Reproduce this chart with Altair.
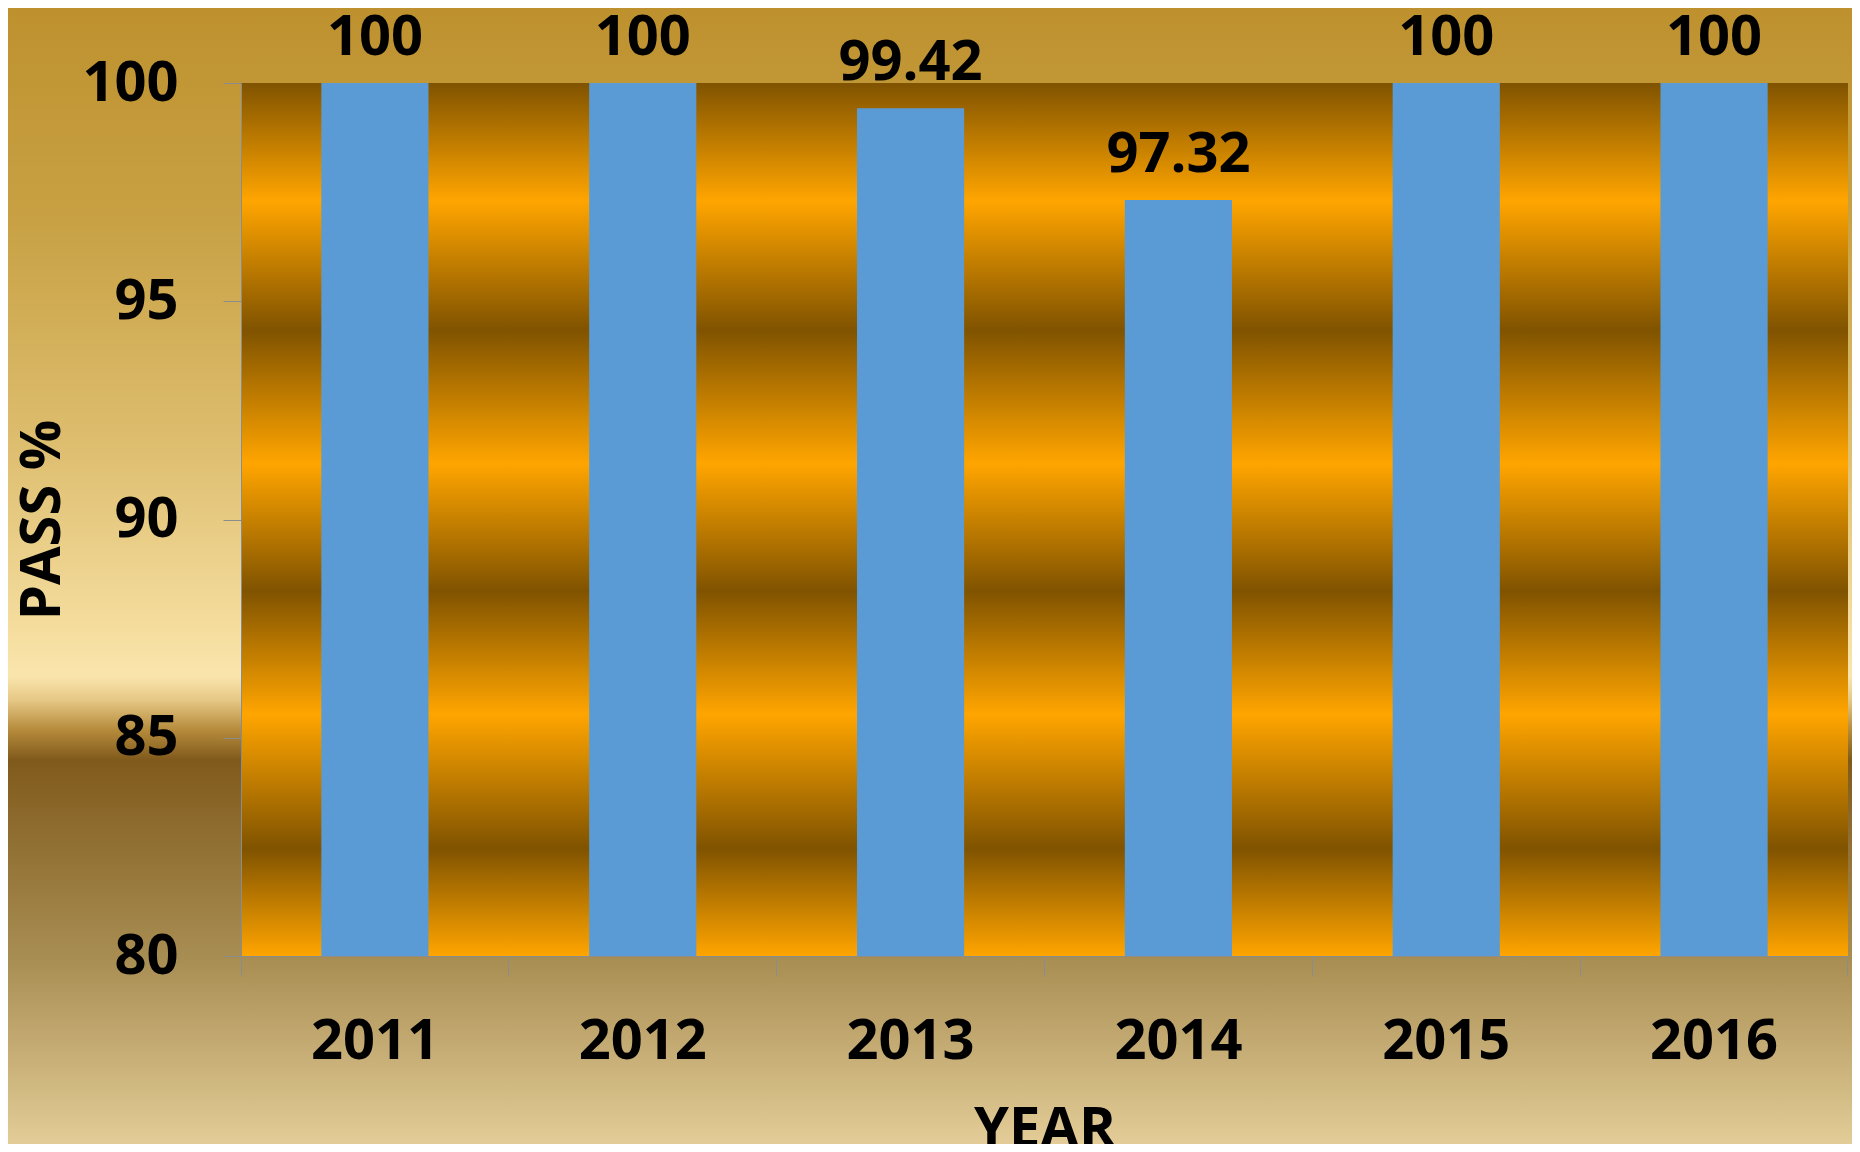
import altair as alt
import pandas as pd

# ---- data ----
years = ["2011", "2012", "2013", "2014", "2015", "2016"]
pass_pct = [100, 100, 99.42, 97.32, 100, 100]
bar_labels = ["100", "100", "99.42", "97.32", "100", "100"]
y_ticks = [80, 85, 90, 95, 100]

# ---- layout / style ----
W, H = 1607, 873
PAD = {"left": 233, "top": 75, "right": 4, "bottom": 188}
FONT = "Open Sans"
FS = 56
GRAY = "#8C8C8C"
BAR = "#5B9BD5"

df = pd.DataFrame({"year": years, "pass": pass_pct, "label": bar_labels})
one = pd.DataFrame({"k": [0]})

page_grad = alt.LinearGradient(
    gradient="linear", x1=0, y1=0, x2=0, y2=1,
    stops=[
        alt.GradientStop(offset=0.0, color="#BE912E"),
        alt.GradientStop(offset=0.187, color="#C8A144"),
        alt.GradientStop(offset=0.381, color="#DDBD6E"),
        alt.GradientStop(offset=0.5625, color="#F7E0A3"),
        alt.GradientStop(offset=0.588, color="#FAE5AD"),
        alt.GradientStop(offset=0.609, color="#E6C886"),
        alt.GradientStop(offset=0.636, color="#B48A3A"),
        alt.GradientStop(offset=0.662, color="#805A1C"),
        alt.GradientStop(offset=0.835, color="#A88D52"),
        alt.GradientStop(offset=1.0, color="#E3CC97"),
    ],
)

DARK, ORANGE = "#805300", "#FFA500"
stripe_offsets = [0.0, 0.135, 0.283, 0.436, 0.582, 0.723, 0.877, 1.0]
plot_grad = alt.LinearGradient(
    gradient="linear", x1=0, y1=0, x2=0, y2=1,
    stops=[alt.GradientStop(offset=o, color=(DARK if i % 2 == 0 else ORANGE))
           for i, o in enumerate(stripe_offsets)],
)

bg = alt.Chart(one).mark_rect(fill=page_grad).encode(
    x=alt.value(-PAD["left"]), x2=alt.value(W + PAD["right"]),
    y=alt.value(-PAD["top"]), y2=alt.value(H + PAD["bottom"]),
)
plot_bg = alt.Chart(one).mark_rect(fill=plot_grad).encode(
    x=alt.value(0), x2=alt.value(W), y=alt.value(0), y2=alt.value(H),
)

x_scale = alt.Scale(paddingInner=0, paddingOuter=0)
y_scale = alt.Scale(domain=[80, 100], nice=False, zero=False)

bars = alt.Chart(df).mark_bar(color=BAR, width=alt.RelativeBandSize(0.4)).encode(
    x=alt.X("year:N", scale=x_scale, sort=years,
            axis=alt.Axis(title="YEAR", orient="bottom", labelAngle=0, ticks=False,
                          tickSize=0, domain=False, labelPadding=58, zindex=2,
                          titleX=W / 2, titleY=190, titleBaseline="alphabetic",
                          titleAlign="center")),
    y=alt.Y("pass:Q", scale=y_scale,
            axis=alt.Axis(title="PASS %", orient="left", values=y_ticks, grid=False,
                          zindex=2, tickSize=18, labelPadding=45, tickColor=GRAY,
                          domainColor=GRAY, titleAngle=270,
                          titleX=-182, titleY=H / 2, titleBaseline="alphabetic",
                          titleAlign="center")),
    y2=alt.datum(80),
)

text = alt.Chart(df).mark_text(
    baseline="alphabetic", dy=-28, font=FONT, fontSize=FS, fontWeight="bold", color="black"
).encode(
    x=alt.X("year:N", scale=x_scale, sort=years,
            axis=alt.Axis(title=None, orient="bottom", labels=False, ticks=True,
                          tickSize=20, zindex=2, bandPosition=0, domain=True,
                          domainColor=GRAY, tickColor=GRAY)),
    y=alt.Y("pass:Q", scale=y_scale, axis=None),
    text="label:N",
)

right_tick = alt.Chart(df).mark_point(opacity=0).encode(
    x=alt.X("year:N", scale=x_scale, sort=years,
            axis=alt.Axis(title=None, orient="bottom", labels=False, ticks=True,
                          tickSize=20, zindex=2, bandPosition=1, domain=False,
                          tickColor=GRAY)),
)

chart = alt.layer(bg, plot_bg, bars, text, right_tick).resolve_axis(
    x="independent", y="independent"
).properties(
    width=W, height=H,
    autosize=alt.AutoSizeParams(type="none"),
    padding=PAD,
    background="#BE912E",
).configure_view(
    stroke="transparent"
).configure_axis(
    labelFont=FONT, labelFontSize=FS, labelFontWeight="bold", labelColor="black",
    titleFont=FONT, titleFontSize=FS, titleFontWeight="bold", titleColor="black",
    domainWidth=1, tickWidth=1,
)

chart.save("out.html", embed_options={"renderer": "svg", "actions": False})
